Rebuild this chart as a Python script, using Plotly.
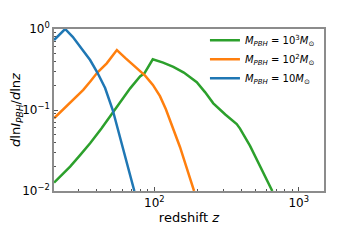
import plotly.graph_objects as go

# data
z_green = [20.2, 23.0, 26.1, 30.5, 35.9, 43.0, 52, 59.5, 68.0, 79.6, 85.3, 97.5, 115.0, 135.4, 160.0, 196.7, 225.0, 256, 310.0, 372, 392, 460.0, 540, 656]
v_green = [0.0127, 0.0158, 0.02, 0.0275, 0.0388, 0.059, 0.094, 0.133, 0.185, 0.26, 0.284, 0.423, 0.385, 0.34, 0.29, 0.22, 0.165, 0.121, 0.088, 0.067, 0.059, 0.036, 0.02, 0.01]

z_orange = [20.2, 23.4, 27.5, 32.2, 36.0, 40.3, 46.8, 55, 63.1, 73.5, 86.3, 97.7, 109.4, 120.2, 134.9, 150.7, 167.9, 188.4]
v_orange = [0.079, 0.102, 0.135, 0.177, 0.225, 0.29, 0.377, 0.55, 0.437, 0.343, 0.266, 0.204, 0.148, 0.102, 0.0603, 0.0347, 0.019, 0.01]

z_blue = [20.2, 24.1, 27.2, 30.6, 35.9, 40.3, 45.6, 51.5, 57.9, 64.7, 72.7]
v_blue = [0.73, 1.0, 0.8, 0.605, 0.414, 0.29, 0.187, 0.1, 0.045, 0.0215, 0.01]

names = [
    "<i>M</i><sub><i>PBH</i></sub> = 10<sup>3</sup><i>M</i><sub>⊙</sub>",
    "<i>M</i><sub><i>PBH</i></sub> = 10<sup>2</sup><i>M</i><sub>⊙</sub>",
    "<i>M</i><sub><i>PBH</i></sub> = 10<i>M</i><sub>⊙</sub>",
]
colors = ["#2ca02c", "#ff7f0e", "#1f77b4"]

x_tickvals = [100, 1000]
x_ticktext = ["10<sup>2</sup>", "10<sup>3</sup>"]
x_minor = [30, 40, 50, 60, 70, 80, 90, 200, 300, 400, 500, 600, 700, 800, 900]
y_tickvals = [0.01, 0.1, 1]
y_ticktext = ["10<sup>−2</sup>", "10<sup>−1</sup>", "10<sup>0</sup>"]
y_minor = [0.02, 0.03, 0.04, 0.05, 0.06, 0.07, 0.08, 0.09, 0.2, 0.3, 0.4, 0.5, 0.6, 0.7, 0.8, 0.9]

fig = go.Figure()
for zs, vs, nm, c in zip([z_green, z_orange, z_blue], [v_green, v_orange, v_blue], names, colors):
    fig.add_trace(go.Scatter(x=zs, y=vs, mode="lines", name=nm,
                             line=dict(color=c, width=2.5)))

axis_common = dict(
    showline=True, mirror=True, linecolor="#8c8c8c", linewidth=1.5,
    showgrid=False, zeroline=False, automargin=False,
    ticks="inside", ticklen=4, tickcolor="#555", tickwidth=1,
    tickfont=dict(family="DejaVu Sans", size=12, color="black"),
)

fig.update_xaxes(type="log", range=[1.305, 3.175], tickmode="array", tickvals=x_tickvals, ticktext=x_ticktext,
                 minor=dict(ticks="inside", ticklen=2, tickcolor="#555", tickmode="array", tickvals=x_minor,
                            showgrid=False),
                 title=dict(text="redshift <i>z</i>", font=dict(family="DejaVu Sans", size=13, color="black"),
                            standoff=4),
                 **axis_common)
fig.update_yaxes(type="log", range=[-2, 0], tickmode="array", tickvals=y_tickvals, ticktext=y_ticktext,
                 minor=dict(ticks="inside", ticklen=2, tickcolor="#555", tickmode="array", tickvals=y_minor,
                            showgrid=False),
                 title=dict(text="<i>d</i>ln<i>I</i><sub><i>PBH</i></sub>/<i>d</i>ln<i>z</i>",
                            font=dict(family="DejaVu Sans", size=13, color="black"), standoff=2),
                 **axis_common)

fig.update_layout(
    width=360, height=240,
    margin=dict(l=46, r=44, t=21, b=57),
    paper_bgcolor="white", plot_bgcolor="white",
    showlegend=True,
    legend=dict(x=0.985, y=1.02, xanchor="right", yanchor="top", bgcolor="rgba(0,0,0,0)",
                font=dict(family="DejaVu Sans", size=10, color="black"),
                tracegroupgap=0, itemwidth=30),
)

fig.write_html("out.html")
